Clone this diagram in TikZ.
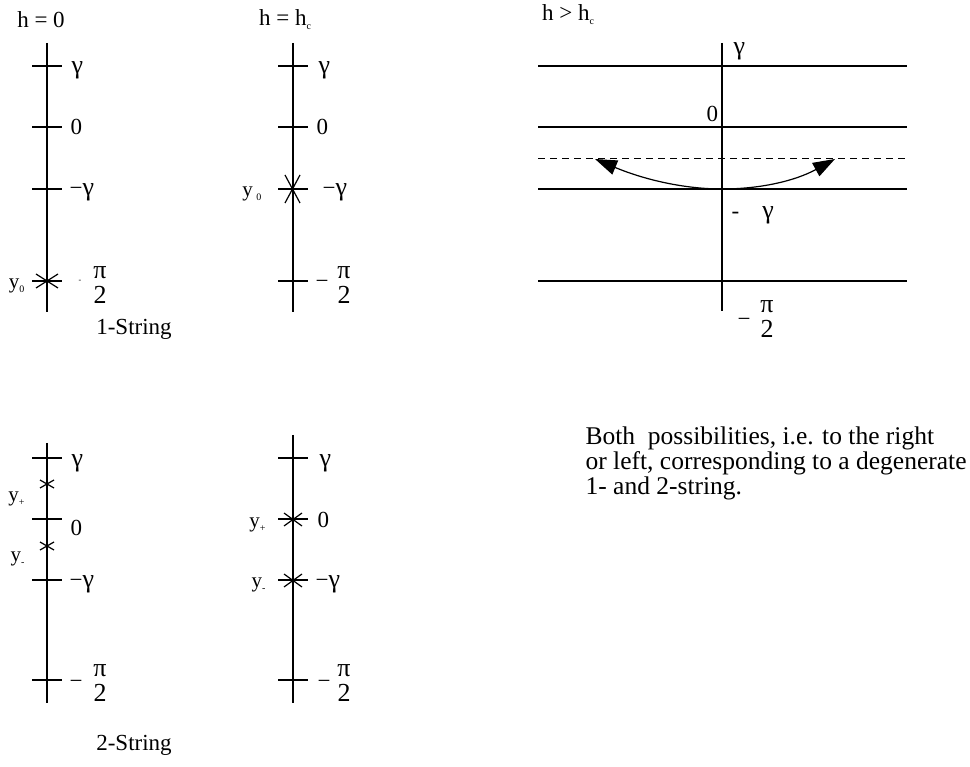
\documentclass[tikz,border=0pt]{standalone}
\usepackage{fontspec}
\setmainfont{Liberation Serif}
\usetikzlibrary{arrows.meta, positioning}

\newcommand{\halfpi}{{\fontsize{26}{24}\selectfont\begin{tabular}{@{}c@{}}π\\2\end{tabular}}}
\newcommand{\sub}[1]{\raisebox{-4pt}{\fontsize{10}{10}\selectfont #1}}
\newcommand{\gam}{{\fontsize{26}{26}\selectfont γ}}

\tikzset{
  txt/.style={font=\fontsize{23}{25}\selectfont, inner sep=0pt},
  lbl/.style={txt, anchor=base west},
  ylbl/.style={font=\fontsize{21}{22}\selectfont, inner sep=0pt, anchor=base east},
}

\begin{document}
\begin{tikzpicture}[x=1pt, y=-1pt, line width=1.2pt]
        \useasboundingbox (0,0) rectangle (970,767);
        % h = 0
        \node[txt] (h0) at (41,20) {h = 0};
        \draw (47,43) -- (47,312);
        \foreach \y in {66,127,189,281} \draw (32,\y) -- (62,\y);
        \draw (36,274) -- (58,288) (36,288) -- (58,274);
        \node[lbl] (g1) at (71,74) {\gam};
        \node[lbl] (z1) at (70,135) {0};
        \node[lbl] (mg1) at (69,196) {−\gam};
        \node[txt, font=\fontsize{8}{8}\selectfont] (m1) at (80,281) {-};
        \node[txt] (p1) at (100,286) {\halfpi};
        \node[ylbl] (y01) at (25,289) {y\sub{0}};
        \node[txt] (s1) at (134,329) {1-String};
        % h = h_c
        \node[txt] (hc) at (285,20) {h = h\sub{c}};
        \draw (293,43) -- (293,312);
        \foreach \y in {66,127,189,281} \draw (278,\y) -- (308,\y);
        \draw (285,175) -- (300,203) (285,203) -- (300,175);
        \node[lbl] (g2) at (318,74) {\gam};
        \node[lbl] (z2) at (316,135) {0};
        \node[lbl] (mg2) at (322,196) {−\gam};
        \node[lbl] (m2) at (315,289) {−};
        \node[txt] (p2) at (344,286) {\halfpi};
        \node[ylbl] (y02) at (262,197) {y\,\sub{0}};
        % h > h_c
        \node[txt] (hg) at (568,15) {h > h\sub{c}};
        \foreach \y in {66,127,189,281} \draw (538,\y) -- (907,\y);
        \draw[dash pattern=on 7pt off 5pt, line width=0.9pt] (538,158) -- (907,158);
        \draw (722,43) -- (722,311);
        \node[lbl] (g3) at (733,55) {\gam};
        \node[lbl] (z3) at (706,122) {0};
        \node[lbl] (mg3) at (731,219) {-\quad\gam};
        \node[lbl] (m3) at (737,327) {−};
        \node[txt] (p3) at (767,320) {\halfpi};
        \coordinate (mid) at (722,189);
        \coordinate (lt) at (595,159);
        \coordinate (rt) at (835,159);
        \draw[-{Triangle[length=22pt, width=15pt]}] (mid) .. controls (685,189) and (645,180) .. (lt);
        \draw[-{Triangle[length=22pt, width=15pt]}] (mid) .. controls (760,189) and (795,181) .. (rt);
        % 2-String, left
        \draw (47,443) -- (47,703);
        \foreach \y in {458,519,580,680} \draw (32,\y) -- (62,\y);
        \draw (40,480) -- (54,488) (40,488) -- (54,480);
        \draw (40,542) -- (54,550) (40,550) -- (54,542);
        \node[lbl] (g4) at (71,466) {\gam};
        \node[lbl] (z4) at (70,535) {0};
        \node[lbl] (mg4) at (69,587) {−\gam};
        \node[lbl] (m4) at (69,688) {−};
        \node[txt] (p4) at (100,684) {\halfpi};
        \node[ylbl] (yp4) at (25,501) {y\sub{+}};
        \node[ylbl] (ym4) at (25,561) {y\sub{-}};
        \node[txt] (s2) at (134,745) {2-String};
        % 2-String, right
        \draw (293,435) -- (293,703);
        \foreach \y in {458,519,580,680} \draw (278,\y) -- (308,\y);
        \draw (284,513) -- (302,526) (284,526) -- (302,513);
        \draw (284,574) -- (302,587) (284,587) -- (302,574);
        \node[lbl] (g5) at (319,466) {\gam};
        \node[lbl] (z5) at (317,527) {0};
        \node[lbl] (mg5) at (315,587) {−\gam};
        \node[lbl] (m5) at (317,688) {−};
        \node[txt] (p5) at (344,684) {\halfpi};
        \node[ylbl] (yp5) at (266,527) {y\sub{+}};
        \node[ylbl] (ym5) at (266,587) {y\sub{-}};
        % remark
        \node[txt, font=\fontsize{25.5}{25}\selectfont, anchor=north west, align=left] (note) at (585,426)
          {Both\ \ possibilities, i.e. to the right\\or left, corresponding to a degenerate\\1- and 2-string.};
    \end{tikzpicture}
\end{document}
